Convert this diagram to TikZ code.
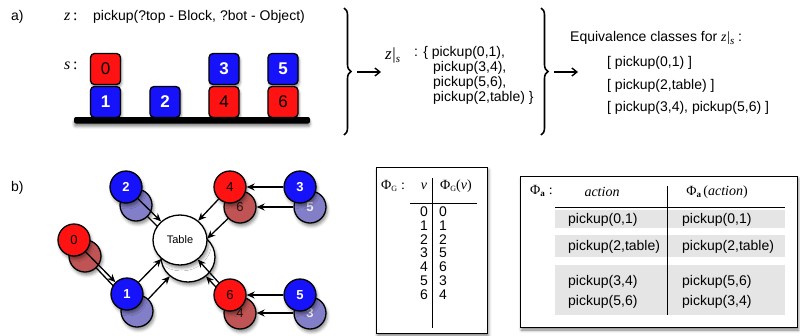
\documentclass[tikz,border=0pt]{standalone}
\usepackage{fontspec}
\setmainfont{Liberation Sans}
\newfontfamily\serifface{Liberation Serif}
\usetikzlibrary{arrows.meta, decorations.pathreplacing, shapes.geometric, shadows.blur}

\definecolor{cubered}{RGB}{255,18,18}
\definecolor{cubeblue}{RGB}{22,18,250}
\definecolor{ghostred}{RGB}{192,84,84}
\definecolor{ghostblue}{RGB}{130,126,200}
\definecolor{bandgray}{RGB}{229,229,229}

\newcommand{\fsz}[1]{\fontsize{#1}{#1}\selectfont}
\newcommand{\itsf}[1]{{\serifface\itshape #1}}
\newcommand{\zrestr}{\itsf{z}\kern0.6pt{\serifface|}\raisebox{-3.5pt}{\fsz{11}\itsf{s}}}
\newcommand{\phiG}{{\serifface Φ\raisebox{-2.5pt}{\fsz{8}G}}}
\newcommand{\phiA}{{\serifface Φ\raisebox{-2.5pt}{\fsz{9}\bfseries a}}}

\begin{document}
\begin{tikzpicture}[x=1pt, y=-1pt,
  every node/.style={inner sep=0pt},
  txt/.style={anchor=west, font=\fsz{14}},
  cube/.style={draw=black, line width=1.3pt, rounded corners=4pt,
    minimum width=30pt, minimum height=31pt, font=\fsz{17},
    blur shadow={shadow xshift=1pt, shadow yshift=-2.5pt,
      shadow blur radius=2.5pt, shadow opacity=45}},
  redcube/.style={cube, fill=cubered, text=black},
  bluecube/.style={cube, fill=cubeblue, text=white, font=\fsz{17}\bfseries},
  vert/.style={circle, draw=black, line width=1.3pt, minimum size=32pt,
    font=\fsz{13},
    blur shadow={shadow xshift=1.5pt, shadow yshift=-3pt,
      shadow blur radius=3pt, shadow opacity=45}},
  redv/.style={vert, fill=cubered, text=black},
  bluev/.style={vert, fill=cubeblue, text=white, font=\fsz{13}\bfseries},
  ghostr/.style={vert, fill=ghostred, text=black!80!ghostred},
  ghostb/.style={vert, fill=ghostblue, text=white!85!ghostblue, font=\fsz{13}\bfseries},
  tablev/.style={ellipse, draw=black, line width=1.3pt, fill=white,
    minimum width=54pt, minimum height=50pt, font=\fsz{11},
    blur shadow={shadow xshift=1.5pt, shadow yshift=-3pt,
      shadow blur radius=3pt, shadow opacity=45}},
  arc/.style={-{Stealth[length=8pt, width=7pt]}, line width=1.3pt},
  flow/.style={-{Straight Barb[length=5pt, width=8pt]}, line width=1.4pt},
  brc/.style={decorate, decoration={brace, amplitude=7pt}, line width=1.6pt},
  panel/.style={draw=black, line width=0.9pt, fill=white,
    blur shadow={shadow xshift=1.5pt, shadow yshift=-3pt,
      shadow blur radius=3pt, shadow opacity=50}},
  band/.style={fill=bandgray, draw=none}
]
\useasboundingbox (0,0) rectangle (800,335);

% ---------------- part a ----------------
\node[txt] (la) at (11,17) {a)};
\node[anchor=west, font=\fsz{16}] (zlab) at (64,17) {\itsf{z}\,{\serifface:}};
\node[txt] (zdef) at (93,17) {pickup(?top - Block, ?bot - Object)};
\node[anchor=west, font=\fsz{16}] (slab) at (64,66) {\itsf{s}\,{\serifface:}};

% blocks world
\path[fill=black, rounded corners=2pt,
  blur shadow={shadow xshift=0pt, shadow yshift=-3pt, shadow blur radius=2.5pt, shadow opacity=45}]
  (74,117) rectangle (310,123.5);
\node[redcube]  (c0) at (105.5,69)  {0};
\node[bluecube] (c1) at (105.5,102) {1};
\node[bluecube] (c2) at (165,102)   {2};
\node[bluecube] (c3) at (224,69)    {3};
\node[redcube]  (c4) at (224,102)   {4};
\node[bluecube] (c5) at (283,69)    {5};
\node[redcube]  (c6) at (283,102)   {6};

% first brace and arrow
\draw[brc] (344,8) -- (344,135);
\coordinate (f1s) at (357,72);
\coordinate (f1e) at (381,72);
\draw[flow] (f1s) -- (f1e);

% instantiated actions
\node[anchor=west, font=\fsz{17}] (zs) at (385,55) {\zrestr};
\node[txt] (set1) at (414,53) {: \{ pickup(0,1),};
\node[txt] (set2) at (433,68) {pickup(3,4),};
\node[txt] (set3) at (433,83) {pickup(5,6),};
\node[txt] (set4) at (433,98) {pickup(2,table) \}};

% second brace and arrow
\draw[brc] (541,8) -- (541,135);
\coordinate (f2s) at (554,72);
\coordinate (f2e) at (578,72);
\draw[flow] (f2s) -- (f2e);

% equivalence classes
\node[txt] (eqh) at (570,38) {Equivalence classes for \zrestr\ :};
\node[txt] (eq1) at (607,63)  {[ pickup(0,1) ]};
\node[txt] (eq2) at (607,86)  {[ pickup(2,table) ]};
\node[txt] (eq3) at (607,108) {[ pickup(3,4), pickup(5,6) ]};

% ---------------- part b ----------------
\node[txt] (lb) at (11,188) {b)};

% image of the graph under the automorphism (drawn behind)
\node[tablev] (bT) at (188,257) {};
\node[ghostb] (b2) at (136,205) {};
\node[ghostr] (b0) at (85,256)  {};
\node[ghostb] (b1) at (137,311) {};
\node[ghostr] (b6) at (240,207) {6};
\node[ghostb] (b5) at (310,207) {5};
\node[ghostr] (b4) at (240,313) {4};
\node[ghostb] (b3) at (310,313) {3};
\draw[arc] (b0) -- (b1);
\draw[arc] (b1) -- (bT);
\draw[arc] (b2) -- (bT);
\draw[arc] (b6) -- (bT);
\draw[arc] (b5) -- (b6);
\draw[arc] (b4) -- (bT);
\draw[arc] (b3) -- (b4);

% the graph itself
\node[tablev] (T) at (180,240) {Table};
\node[bluev] (n2) at (126,187) {2};
\node[redv]  (n0) at (74,240)  {0};
\node[bluev] (n1) at (127,294) {1};
\node[redv]  (n4) at (230,187) {4};
\node[bluev] (n3) at (300,187) {3};
\node[redv]  (n6) at (230,295) {6};
\node[bluev] (n5) at (300,295) {5};
\draw[arc] (n0) -- (n1);
\draw[arc] (n1) -- (T);
\draw[arc] (n2) -- (T);
\draw[arc] (n4) -- (T);
\draw[arc] (n3) -- (n4);
\draw[arc] (n6) -- (T);
\draw[arc] (n5) -- (n6);

% vertex mapping table
\path[panel] (376,167) rectangle (487,333);
\node[anchor=west, font=\fsz{14}] (pgh) at (381,186) {\phiG\ {\serifface:}};
\node[anchor=center, font=\fsz{14}] (pgv) at (424,186) {\itsf{ν}};
\node[anchor=west, font=\fsz{14}] (pgw) at (440,186) {\phiG{\serifface(}\itsf{ν}{\serifface)}};
\coordinate (gh1) at (410,203);
\coordinate (gh2) at (477,203);
\draw[line width=0.8pt] (gh1) -- (gh2);
\coordinate (gv1) at (432,178);
\coordinate (gv2) at (432,328);
\draw[line width=0.8pt] (gv1) -- (gv2);
\foreach \v/\w [count=\i from 0] in {0/0,1/1,2/2,3/5,4/6,5/3,6/4} {
  \node[anchor=east, font=\fsz{14}] (gl\i) at (428,212+13.7*\i) {\v};
  \node[anchor=west, font=\fsz{14}] (gr\i) at (439,212+13.7*\i) {\w};
}

% action mapping table
\path[panel] (520,176) rectangle (797,327);
\path[band] (555,210) rectangle (785,228);
\path[band] (555,235) rectangle (785,257);
\path[band] (555,265) rectangle (785,315);
\node[anchor=west, font=\fsz{14}] (pah) at (530,191) {\phiA\ {\serifface:}};
\node[font=\fsz{14}] (pac) at (602,192) {\itsf{action}};
\node[font=\fsz{14}] (pam) at (717,192) {\phiA\,{\serifface(}\itsf{action}{\serifface)}};
\coordinate (ah1) at (555,207);
\coordinate (ah2) at (785,207);
\draw[line width=0.8pt] (ah1) -- (ah2);
\coordinate (av1) at (667,186);
\coordinate (av2) at (667,315);
\draw[line width=0.8pt] (av1) -- (av2);
\node[txt] (a1l) at (568,220) {pickup(0,1)};
\node[txt] (a1r) at (682,220) {pickup(0,1)};
\node[txt] (a2l) at (568,247) {pickup(2,table)};
\node[txt] (a2r) at (682,247) {pickup(2,table)};
\node[txt] (a3l) at (568,282) {pickup(3,4)};
\node[txt] (a3r) at (682,282) {pickup(5,6)};
\node[txt] (a4l) at (568,302) {pickup(5,6)};
\node[txt] (a4r) at (682,302) {pickup(3,4)};
\end{tikzpicture}
\end{document}
